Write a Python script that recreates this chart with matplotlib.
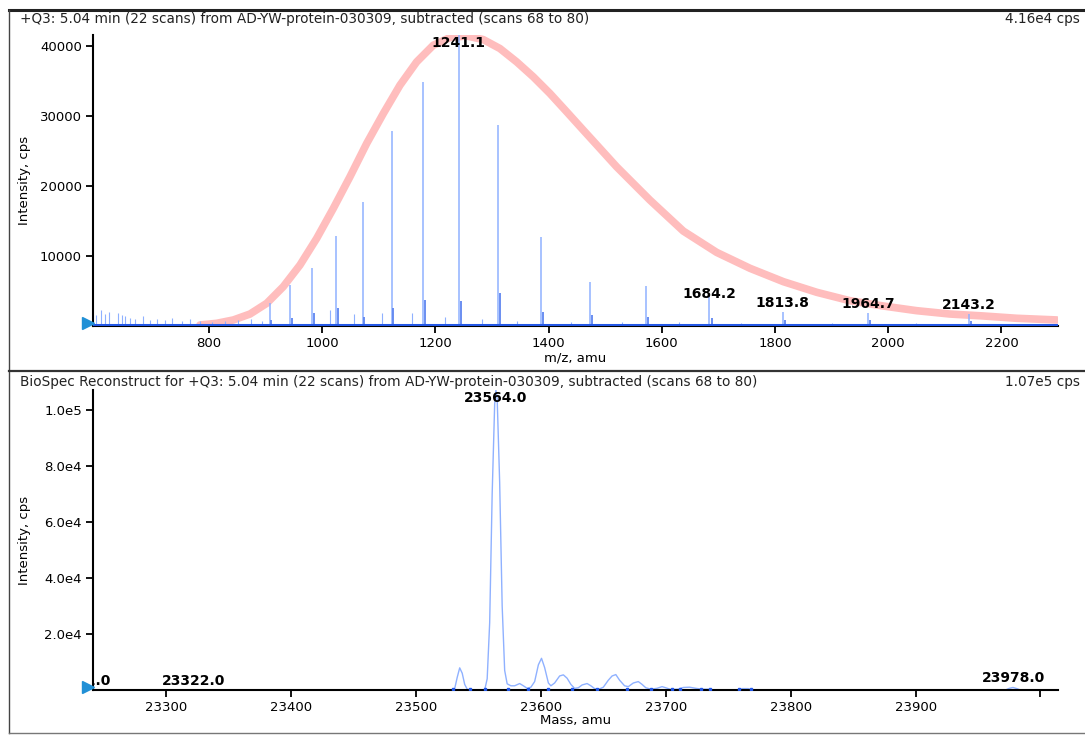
# -*- coding: utf-8 -*-
""" Spectre ESI (m/z) et spectre reconstruit (BioSpec) d'une proteine """

import matplotlib.pyplot as plt
from matplotlib.lines import Line2D
from matplotlib.transforms import offset_copy

# ---- spectre m/z (panneau du haut) ----
mz_peaks = [906.9, 943.6, 982.5, 1025.1, 1071.6, 1122.5, 1178.8, 1241.1,
            1310.3, 1387.0, 1473.6, 1572.0, 1684.2, 1813.8, 1964.7, 2143.2]
mz_heights = [3240, 5860, 8240, 12900, 17760, 27900, 34900, 41600,
              28700, 12700, 6330, 5700, 4600, 2050, 1900, 1700]
mz_shoulders = [909.5, 946.5, 985.0, 1028.0, 1074.5, 1125.5, 1182.0, 1244.5,
                1313.5, 1390.5, 1477.0, 1575.5, 1688.0, 1817.5, 1968.5, 2147.0]
shoulder_heights = [900, 1100, 1900, 2500, 1300, 2600, 3700, 3600,
                    4700, 2050, 1500, 1300, 1100, 900, 800, 700]
noise_mz = [601, 610, 616, 623, 640, 646, 652, 660, 669, 684, 696, 708, 722,
            735, 752, 766, 784, 805, 828, 851, 875, 893, 1013, 1057, 1105,
            1158, 1217, 1282, 1345, 1440, 1530, 1630, 1740, 1900, 2050, 2250]
noise_int = [1570, 2290, 1760, 2050, 1800, 1570, 1430, 1100, 950, 1430, 860,
             950, 860, 1100, 760, 950, 760, 600, 760, 860, 950, 760, 2290,
             1720, 1810, 1810, 1330, 950, 700, 600, 500, 500, 450, 400, 400, 350]
baseline_level = 150

# enveloppe (trace rose)
env_mz = [784, 813.5, 843, 872.4, 902, 931.2, 960.7, 990.2, 1019.6, 1049,
          1078.6, 1108, 1137.4, 1166.9, 1196.2, 1225.7, 1255.2, 1284.6, 1314,
          1343.6, 1373, 1402.4, 1432, 1461.3, 1490.8, 1520.2, 1549.6, 1579,
          1638, 1697, 1756, 1815, 1874, 1932, 1991, 2050, 2109, 2168, 2227, 2298]
env_int = [140, 380, 860, 1710, 3240, 5620, 8710, 12520, 16810, 21330,
           26100, 30380, 34430, 37760, 40140, 41240, 41470, 40950, 39670,
           37760, 35620, 33240, 30620, 28000, 25380, 22760, 20380, 18000,
           13570, 10520, 8240, 6330, 4810, 3620, 2860, 2190, 1710, 1430, 1100, 860]

lab_mz = [1241.1, 1684.2, 1813.8, 1964.7, 2143.2]
lab_int = [41600, 3300, 2000, 1850, 1700]

mz_ticks = [800, 1000, 1200, 1400, 1600, 1800, 2000, 2200]
int_ticks = [10000, 20000, 30000, 40000]

# ---- spectre reconstruit (panneau du bas) ----
mass = [23241, 23528, 23531, 23533, 23535, 23537, 23539, 23541, 23543,
        23555, 23557, 23559, 23561, 23563, 23564, 23565, 23567, 23569,
        23571, 23573, 23576, 23579, 23583, 23586, 23589, 23592, 23595,
        23598, 23600.5, 23603, 23606, 23608, 23611, 23615, 23618, 23621,
        23624, 23627, 23630, 23633, 23637, 23640, 23643, 23647, 23650,
        23654, 23657, 23660, 23663, 23667, 23670, 23674, 23678, 23681,
        23684, 23688, 23693, 23697, 23700, 23704, 23710, 23714, 23719,
        23724, 23729, 23735, 23738, 23758, 23761, 23766, 23769, 23972,
        23975, 23978, 23981, 23984]
mass_int = [0, 0, 500, 4500, 7900, 6000, 2000, 300, 0,
            0, 4000, 24000, 70000, 102000, 107000, 104000, 74000, 30000,
            7000, 2200, 1500, 1500, 2300, 1500, 600, 1000, 3000,
            9000, 11300, 8000, 2500, 1500, 2500, 5000, 5400, 4200,
            2000, 600, 800, 1800, 2300, 1500, 500, 400, 1000,
            3500, 5000, 5500, 3500, 1500, 1200, 2500, 3000, 2000,
            800, 300, 600, 1200, 800, 200, 300, 900, 1000,
            600, 300, 300, 0, 0, 500, 500, 0, 0,
            600, 900, 500, 0]
zero_mass = [23530, 23543, 23555, 23574, 23590, 23606, 23625, 23645, 23669,
             23688, 23705, 23711, 23728, 23735, 23759, 23768]

mass_lab = [23231.0, 23322.0, 23564.0, 23978.0]
mass_lab_int = [0, 0, 107000, 900]

mass_ticks = [23300, 23400, 23500, 23600, 23700, 23800, 23900, 24000]
mass_ticklabels = ['23300', '23400', '23500', '23600', '23700', '23800', '23900', '']
mint_ticks = [20000, 40000, 60000, 80000, 100000]
mint_ticklabels = ['2.0e4', '4.0e4', '6.0e4', '8.0e4', '1.0e5']

LIGHT = '#8fb1ff'
DARK = '#2458e6'
TRI = '#2190d6'
FS = 9.5
FS_HEAD = 9.8


def style_axes(ax):
    for s in ('top', 'right'):
        ax.spines[s].set_visible(False)
    for s in ('left', 'bottom'):
        ax.spines[s].set_linewidth(1.5)
    ax.tick_params(direction='out', length=5, width=1.3, labelsize=FS, pad=3)


def peak_labels(ax, xs, ys, ymax):
    for m, h in zip(xs, ys):
        if h >= 0.98 * ymax:
            t = ax.annotate('%.1f' % m, (m, h), xytext=(0, -1), textcoords='offset points',
                            ha='center', va='top', fontsize=10, fontweight='bold',
                            zorder=5, annotation_clip=False)
        else:
            t = ax.annotate('%.1f' % m, (m, h), xytext=(0, 1.5), textcoords='offset points',
                            ha='center', va='bottom', fontsize=10, fontweight='bold',
                            zorder=5, annotation_clip=False)
        t.set_clip_path(ax.patch)
        t.set_clip_on(True)


fig = plt.figure(figsize=(10.85, 7.36), dpi=100)

# ---- haut ----
ax1 = fig.add_axes([0.0857, 0.5571, 0.8894, 0.3953])
ax1.plot(env_mz, env_int, color='#ffb6b6', lw=5.5, alpha=0.9,
         solid_capstyle='round', solid_joinstyle='round', zorder=1)
ax1.vlines(noise_mz, 0, noise_int, color=LIGHT, lw=0.8, zorder=2)
ax1.vlines(mz_peaks, 0, mz_heights, color=LIGHT, lw=1.1, zorder=3)
ax1.vlines(mz_shoulders, 0, shoulder_heights, color='#5f86f0', lw=1.3, zorder=3)
ax1.axhline(baseline_level, color=DARK, lw=2.2, zorder=3)
ax1.set_xlim(595, 2300)
ax1.set_ylim(0, 41600)
ax1.set_xticks(mz_ticks)
ax1.set_yticks(int_ticks)
style_axes(ax1)
peak_labels(ax1, lab_mz, lab_int, 41600)
tr1 = offset_copy(ax1.transData, fig=fig, x=-5, y=3, units='dots')
ax1.plot([595], [0], marker='>', ms=8, color=TRI, transform=tr1, clip_on=False, zorder=6)

# ---- bas ----
ax2 = fig.add_axes([0.0857, 0.0625, 0.8894, 0.4076])
ax2.plot(mass, mass_int, color=LIGHT, lw=1.0, zorder=2)
ax2.plot(zero_mass, [300] * len(zero_mass), ls='none', marker='s', ms=1.8,
         color=DARK, zorder=3)
ax2.set_xlim(23241.4, 24014)
ax2.set_ylim(0, 107000)
ax2.set_xticks(mass_ticks)
ax2.set_xticklabels(mass_ticklabels)
ax2.set_yticks(mint_ticks)
ax2.set_yticklabels(mint_ticklabels)
style_axes(ax2)
peak_labels(ax2, mass_lab, mass_lab_int, 107000)
tr2 = offset_copy(ax2.transData, fig=fig, x=-5, y=3, units='dots')
ax2.plot([23241.4], [0], marker='>', ms=8, color=TRI, transform=tr2, clip_on=False, zorder=6)

# ---- textes ----
fig.text(0.0184, 0.9742, '+Q3: 5.04 min (22 scans) from AD-YW-protein-030309, '
         'subtracted (scans 68 to 80)', fontsize=FS_HEAD, va='center', color='#222222')
fig.text(0.9954, 0.9742, '4.16e4 cps', fontsize=FS_HEAD, va='center', ha='right', color='#222222')
fig.text(0.0184, 0.481, 'BioSpec Reconstruct for +Q3: 5.04 min (22 scans) from '
         'AD-YW-protein-030309, subtracted (scans 68 to 80)', fontsize=FS_HEAD,
         va='center', color='#222222')
fig.text(0.9954, 0.481, '1.07e5 cps', fontsize=FS_HEAD, va='center', ha='right', color='#222222')
fig.text(0.023, 0.755, 'Intensity, cps', rotation=90, fontsize=FS, va='center', ha='center')
fig.text(0.023, 0.266, 'Intensity, cps', rotation=90, fontsize=FS, va='center', ha='center')
fig.text(0.5304, 0.5136, 'm/z, amu', fontsize=FS, va='center', ha='center')
fig.text(0.5304, 0.0204, 'Mass, amu', fontsize=FS, va='center', ha='center')

# ---- cadre ----
W, H = 1085.0, 736.0
frame = [((9, 1085), (10, 10), 2.2, '#222222'),
         ((9, 9), (10, 733), 1.0, '#444444'),
         ((9, 1085), (733, 733), 1.0, '#777777'),
         ((9, 1085), (371, 371), 1.6, '#333333')]
for xs, ys, lw, c in frame:
    fig.add_artist(Line2D([x / W for x in xs], [1 - y / H for y in ys],
                          lw=lw, color=c, transform=fig.transFigure))

plt.savefig('out.png', dpi=100)
